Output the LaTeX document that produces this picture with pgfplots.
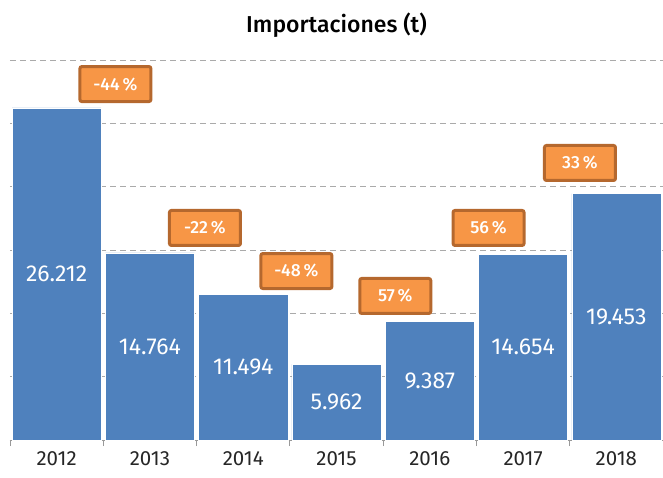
\documentclass[border=0pt]{standalone}
\usepackage{pgfplots}
\pgfplotsset{compat=1.18}
\usepackage{pgfplotstable}
\usepackage{fontspec}
\setmainfont{Fira Sans}
\newfontfamily\titlefont{Fira Sans Medium}
\definecolor{barblue}{HTML}{4F81BD}
\definecolor{boxfill}{HTML}{F79646}
\definecolor{boxdraw}{HTML}{B5682E}
\definecolor{gridgray}{HTML}{AAAAAA}
\definecolor{axgray}{HTML}{999999}
\pgfplotstableread{
x v lab
0 26212 26.212
1 14764 14.764
2 11494 11.494
3 5962 5.962
4 9387 9.387
5 14654 14.654
6 19453 19.453
}\bars
\pgfplotstableread{
x y lab
0.63 28100 {-44\,\%}
1.59 16740 {-22\,\%}
2.57 13340 {-48\,\%}
3.63 11370 {57\,\%}
4.63 16740 {56\,\%}
5.61 21870 {33\,\%}
}\pcts
\begin{document}
\begin{tikzpicture}
\path[use as bounding box] (-10pt,-37pt) rectangle (653pt,440pt);
\begin{axis}[
  at={(0pt,0pt)}, anchor=south west,
  scale only axis, width=653pt, height=380pt,
  xmin=-0.5, xmax=6.5, ymin=0, ymax=30000,
  scaled y ticks=false,
  axis x line*=bottom, axis y line*=left,
  y axis line style={draw=none},
  x axis line style={draw=axgray, line width=0.8pt},
  xtick={0,...,6},
  xticklabels={2012,2013,2014,2015,2016,2017,2018},
  major x tick style={draw=none},
  minor xtick={-0.5,0.5,...,6.5},
  minor x tick style={draw=axgray, line width=0.8pt},
  minor tick length=6pt,
  tick align=outside,
  ytick={0,5000,...,30000},
  yticklabels={},
  ytick style={draw=none},
  ymajorgrids,
  major grid style={draw=gridgray, dashed, dash pattern=on 6pt off 4pt, line width=0.9pt},
  xticklabel style={font=\fontsize{20.5}{20.5}\selectfont, text=black!85, yshift=-4pt},
  /pgf/number format/assume math mode=true,
  clip=false,
]
\addplot[ybar, bar width=0.955, fill=barblue, draw=white, line width=0.5pt] table[x=x, y=v] {\bars};
\addplot[draw=none, mark=none, nodes near coords, point meta=explicit symbolic,
  nodes near coords style={anchor=center, text=white, font=\fontsize{23}{23}\selectfont}]
  table[x=x, y expr=\thisrow{v}/2, meta=lab] {\bars};
\addplot[draw=none, mark=none, nodes near coords, point meta=explicit symbolic,
  nodes near coords style={anchor=center, text=white, font=\titlefont\fontsize{17.5}{17.5}\selectfont,
    fill=boxfill, draw=boxdraw, line width=3pt, rounded corners=2pt,
    minimum width=71pt, minimum height=35pt, inner sep=0pt}]
  table[x=x, y=y, meta=lab] {\pcts};
\node[font=\titlefont\fontsize{23}{23}\selectfont, text=black] at (rel axis cs:0.5,1) [yshift=35pt] {Importaciones (t)};
\end{axis}
\end{tikzpicture}
\end{document}
